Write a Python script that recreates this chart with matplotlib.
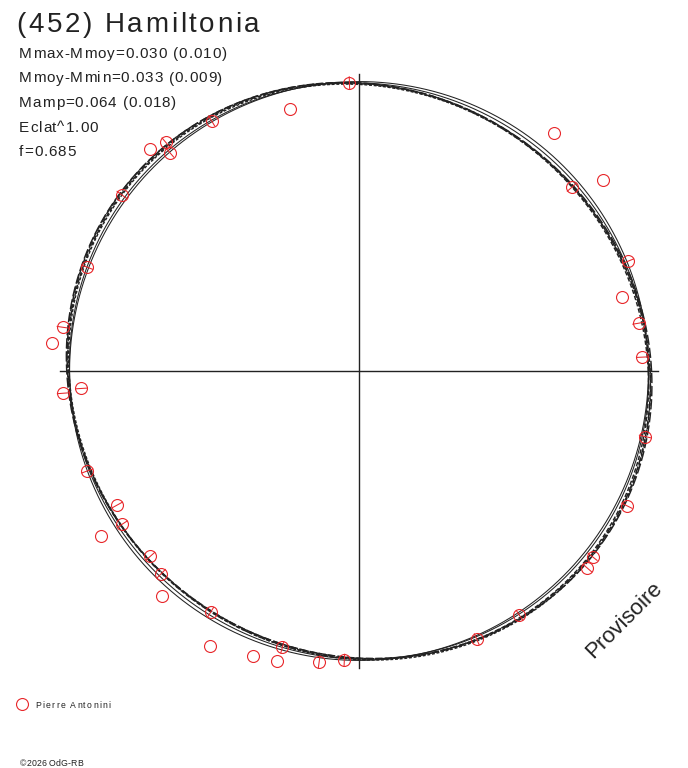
import numpy as np
import matplotlib
matplotlib.use("Agg")
import matplotlib.pyplot as plt
from matplotlib import font_manager, ft2font

W, H = 688, 768
CX, CY = 359, 371          # centre of the polar diagram, pixels
R_PIX = 290.0              # pixels for a unit radius

# observations: position angle (deg, ccw from +x), normalised radius, radial error
obs_angle = [91.9, 104.7, 120.5, 130.2, 133.3, 130.9, 143.4, 159.1, 171.6, 174.7,
             183.6, 184.3, 200.2, 209.0, 212.9, 212.7, 221.6, 225.7, 228.8, 238.4,
             241.6, 249.6, 254.3, 254.5, 262.2, 267.1, 293.7, 303.3, 319.2, 321.5,
             333.3, 347.1, 2.8, 9.7, 15.8, 22.2, 38.0, 40.8, 50.6]
obs_radius = [0.995, 0.933, 1.001, 1.032, 1.050, 0.996, 1.019, 1.003, 1.032, 1.062,
              0.959, 1.023, 0.998, 0.953, 0.972, 1.056, 0.962, 0.976, 1.032, 0.977,
              1.078, 1.050, 1.040, 0.989, 1.013, 0.998, 1.010, 1.008, 1.040, 1.029,
              1.034, 1.012, 0.978, 0.978, 0.941, 1.003, 1.069, 0.969, 1.061]
obs_err = [0.02, 0, 0.02, 0.02, 0, 0.02, 0.02, 0.02, 0.02, 0,
           0.02, 0.02, 0.02, 0.02, 0.02, 0, 0.02, 0.02, 0, 0.02,
           0, 0, 0, 0.02, 0.02, 0.02, 0.02, 0.02, 0.02, 0.02,
           0.02, 0.02, 0.02, 0.02, 0, 0.02, 0, 0.02, 0]

# model curves: mean radius, 1st harmonic (amp, phase), 2nd harmonic (amp, phase)
fit_a0 = [0.998, 0.996, 1.000, 0.997]
fit_a1 = [0.002, 0.003, 0.001, 0.004]
fit_p1 = [120, 200, 60, 300]
fit_a2 = [0.026, 0.024, 0.027, 0.025]
fit_p2 = [142, 140, 144, 141]
fit_dash = [(0, (5, 1.5)), (0, (3, 1.5)), (0, (7, 2)), (0, (2, 1.2))]

ref_a0 = [0.998, 0.996]
ref_a2 = [0.0, 0.010]
ref_p2 = [142, 142]

title = "(452) Hamiltonia"
stats = ["Mmax-Mmoy=0.030 (0.010)", "Mmoy-Mmin=0.033 (0.009)",
         "Mamp=0.064 (0.018)", "Eclat^1.00", "f=0.685"]
observer = "Pierre Antonini"
credit = "\u00a92026 OdG-RB"

INK = "#222222"
RED = "#e8262a"
plt.rcParams["font.family"] = ["Liberation Sans", "DejaVu Sans"]

fig = plt.figure(figsize=(W / 100, H / 100), dpi=100)
ax = fig.add_axes([0, 0, 1, 1])
ax.set_xlim(-CX / R_PIX, (W - CX) / R_PIX)
ax.set_ylim(-(H - CY) / R_PIX, CY / R_PIX)
ax.axis("off")

ax.plot([-1.03, 1.03], [0, 0], color=INK, lw=1.0)
ax.plot([0, 0], [-1.025, 1.025], color=INK, lw=1.0)

th = np.radians(np.linspace(0, 360, 721))
for a0, a2, p2 in zip(ref_a0, ref_a2, ref_p2):
    r = a0 + a2 * np.cos(2 * (th - np.radians(p2)))
    ax.plot(r * np.cos(th), r * np.sin(th), color=INK, lw=0.75)
for a0, a1, p1, a2, p2, ls in zip(fit_a0, fit_a1, fit_p1, fit_a2, fit_p2, fit_dash):
    r = (a0 + a1 * np.cos(th - np.radians(p1))
         + a2 * np.cos(2 * (th - np.radians(p2))))
    ax.plot(r * np.cos(th), r * np.sin(th), color=INK, lw=1.05, linestyle=ls)

ang = np.radians(obs_angle)
rad = np.array(obs_radius)
err = np.array(obs_err)
for t, r, e in zip(ang, rad, err):
    if e > 0:
        ax.plot([(r - e) * np.cos(t), (r + e) * np.cos(t)],
                [(r - e) * np.sin(t), (r + e) * np.sin(t)], color=RED, lw=0.75)
ax.plot(rad * np.cos(ang), rad * np.sin(ang), "o", ms=8.6, mfc="none",
        mec=RED, mew=0.8, linestyle="none")

# letter-spaced text, placed glyph by glyph on a pixel baseline
font = ft2font.FT2Font(font_manager.findfont("Liberation Sans"))


def spaced(x, y, s, size, track):
    font.set_size(size, 100)
    for c in s:
        fig.text(x / W, 1 - y / H, c, fontsize=size, color=INK, va="baseline")
        x += font.load_char(ord(c)).linearHoriAdvance / 65536 + track


spaced(16.5, 32.5, title, 20, 2.6)
for i, s in enumerate(stats):
    spaced(19, 58 + 24.5 * i, s, 11, 0.9)

fig.text(624 / W, 1 - 620 / H, "Provisoire", fontsize=16, color=INK, rotation=45,
         ha="center", va="center", rotation_mode="anchor")

ax.plot((22 - CX) / R_PIX, (CY - 704) / R_PIX, "o", ms=8.6,
        mfc="none", mec=RED, mew=0.8)
spaced(35.5, 708.5, observer, 6.2, 1.3)
spaced(20, 766, credit, 6.3, 0.1)

fig.savefig("out.png", dpi=100)
